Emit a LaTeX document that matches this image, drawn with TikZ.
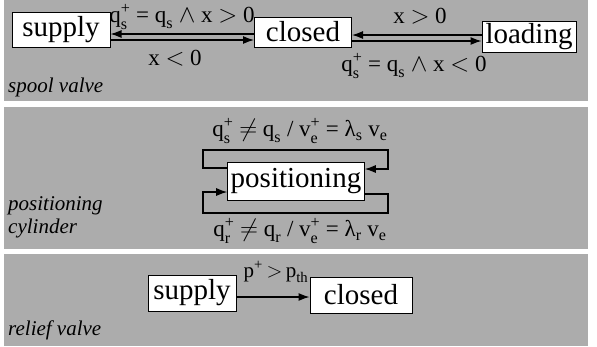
\documentclass[tikz,border=0pt]{standalone}
\usepackage{amsmath}
\usepackage{fontspec}
\setmainfont{Liberation Serif}
\usetikzlibrary{arrows.meta}
\definecolor{bandgray}{RGB}{172,172,172}
\newcommand{\vsym}[3]{$\text{#1}^{\text{#2}}_{\text{#3}}$}
\newcommand{\vsub}[2]{$\text{#1}_{\text{#2}}$}

\begin{document}
\begin{tikzpicture}[x=1pt,y=-1pt,>={Latex[length=11pt,width=8pt]},
    statebox/.style={draw,fill=white,line width=1pt,inner xsep=3pt,inner ysep=0pt,
      minimum height=33pt,font=\fontsize{29}{31}\selectfont},
    cond/.style={inner sep=0pt,font=\fontsize{23}{25}\selectfont},
    caption/.style={anchor=west,inner sep=0pt,font=\fontsize{21}{23}\selectfont\itshape},
    trans/.style={->,line width=1.2pt}]
  \useasboundingbox (0,0) rectangle (597,346);
  % three bands
  \fill[bandgray] (4,0) rectangle (588,101);
  \fill[bandgray] (4,107) rectangle (588,249);
  \fill[bandgray] (4,254) rectangle (588,346);

  % spool valve
  \node[statebox,minimum width=98pt,minimum height=35pt] (supplyA) at (61,30) {supply};
  \node[statebox,minimum width=97pt,minimum height=30pt] (closedA) at (303,32) {closed};
  \node[statebox,minimum width=94pt,minimum height=31pt] (loading) at (529,37) {loading};
  \draw[trans] (closedA.west |- 0,34) -- (supplyA.east |- 0,34);
  \draw[trans] (supplyA.east |- 0,40) -- (closedA.west |- 0,40);
  \draw[trans] (loading.west |- 0,35) -- (closedA.east |- 0,35);
  \draw[trans] (closedA.east |- 0,41) -- (loading.west |- 0,41);
  \node[cond] (openS) at (182,17) {\vsym{q}{+}{s} = \vsub{q}{s} $\wedge$ x $>$ 0};
  \node[cond] (backS) at (175,58) {x $<$ 0};
  \node[cond] (backL) at (420,16) {x $>$ 0};
  \node[cond] (openL) at (414,66) {\vsym{q}{+}{s} = \vsub{q}{s} $\wedge$ x $<$ 0};
  \node[caption] (spool) at (8,87) {spool valve};

  % positioning cylinder
  \node[statebox,minimum width=136pt,minimum height=38pt] (pos) at (296,181) {positioning};
  \draw[trans] (pos.west |- 0,168) -| (203,150) -| (388,169) -- (pos.east |- 0,169);
  \draw[trans] (pos.east |- 0,194) -| (388,213) -| (203,192) -- (pos.west |- 0,192);
  \node[cond] (stayS) at (300,131) {\vsym{q}{+}{s} $\neq$ \vsub{q}{s} / \vsym{v}{+}{e} = \vsub{λ}{s} \vsub{v}{e}};
  \node[cond] (stayR) at (300,231) {\vsym{q}{+}{r} $\neq$ \vsub{q}{r} / \vsym{v}{+}{e} = \vsub{λ}{r} \vsub{v}{e}};
  \node[caption] (cylA) at (8,206) {positioning};
  \node[caption] (cylB) at (8,228) {cylinder};

  % relief valve
  \node[statebox,minimum width=88pt,minimum height=36pt] (supplyB) at (192,293) {supply};
  \node[statebox,minimum width=102pt,minimum height=36pt] (closedB) at (361,295) {closed};
  \draw[trans] (supplyB.east |- 0,297) -- (closedB.west |- 0,297);
  \node[cond,font=\fontsize{21}{23}\selectfont] (relief) at (276,272) {p$^{\text{+}}$\,$>$\,\vsub{p}{th}};
  \node[caption] (valve) at (8,330) {relief valve};
\end{tikzpicture}
\end{document}
